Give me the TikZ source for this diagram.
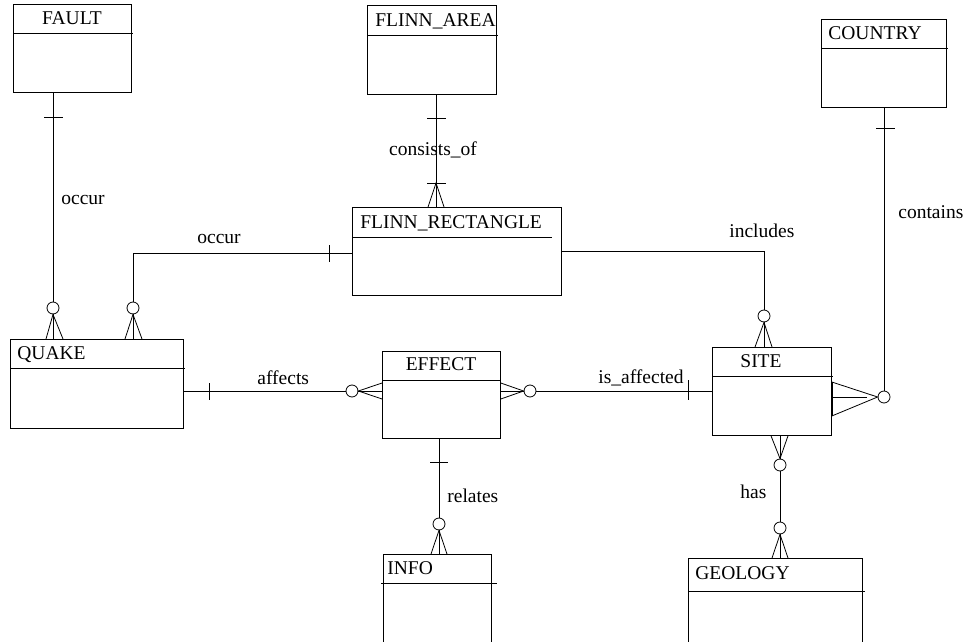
\documentclass[tikz,border=0pt]{standalone}
\usepackage{fontspec}
\setmainfont{Liberation Serif}
\begin{document}
\begin{tikzpicture}[x=1pt,y=-1pt,line width=0.8pt,
  ent/.style={draw, rectangle, inner sep=0pt, anchor=north west},
  ttl/.style={font=\fontsize{19.5}{21}\selectfont, inner sep=0pt, anchor=base west},
  lbl/.style={font=\fontsize{19.5}{21}\selectfont, inner sep=0pt, anchor=base west},
  circ/.style={draw, circle, fill=white, minimum size=12pt, inner sep=0pt}]
\clip (0,0) rectangle (966,642);
\fill[white] (0,0) rectangle (966,642);
% ---------------- entities ----------------
\node[ent, minimum width=118pt, minimum height=88pt] (fault) at (13,4) {};
\draw (fault.west |- 0,33) -- (133,33);
\node[ttl, anchor=base] (faultT) at (72,25) {FAULT};

\node[ent, minimum width=129pt, minimum height=89pt] (farea) at (367,5) {};
\draw (farea.west |- 0,35) -- (498,35);
\node[ttl] (fareaT) at (375,27) {FLINN\_AREA};

\node[ent, minimum width=125pt, minimum height=88pt] (country) at (821,19) {};
\draw (country.west |- 0,48) -- (948,48);
\node[ttl] (countryT) at (828,40) {COUNTRY};

\node[ent, minimum width=209pt, minimum height=88pt] (frect) at (352,207) {};
\draw (frect.west |- 0,237) -- (552,237);
\node[ttl] (frectT) at (360,228) {FLINN\_RECTANGLE};

\node[ent, minimum width=173pt, minimum height=89pt] (quake) at (10,339) {};
\draw (quake.west |- 0,368) -- (185,368);
\node[ttl] (quakeT) at (17,359) {QUAKE};

\node[ent, minimum width=118pt, minimum height=87pt] (effect) at (382,351) {};
\draw (effect.west |- 0,380) -- (effect.east |- 0,380);
\node[ttl, anchor=base] (effectT) at (441,370) {EFFECT};

\node[ent, minimum width=119pt, minimum height=88pt] (site) at (712,347) {};
\draw (site.west |- 0,376) -- (833,376);
\node[ttl] (siteT) at (740,367) {SITE};

\node[ent, minimum width=108pt, minimum height=110pt] (info) at (383,554) {};
\draw (381,583) -- (497,583);
\node[ttl] (infoT) at (387,574) {INFO};

\node[ent, minimum width=174pt, minimum height=110pt] (geology) at (688,558) {};
\draw (geology.west |- 0,591) -- (865,591);
\node[ttl] (geologyT) at (695,579) {GEOLOGY};

% ---------------- FAULT -- QUAKE (occur) ----------------
\node[circ] (c1) at (53,308) {};
\draw (53,0 |- fault.south) -- (c1.north);
\draw (44,117) -- (63,117);
\draw (46,0 |- quake.north) -- (c1.south) -- (63,0 |- quake.north);
\draw (c1.south) -- (53,0 |- quake.north);
\node[lbl] (l1) at (61,204) {occur};

% ---------------- FLINN_RECTANGLE -- QUAKE (occur) ----------------
\node[circ] (c2) at (133,308) {};
\draw (frect.west |- 0,253) -- (133,253) -- (c2.north);
\draw (329,245) -- (329,262);
\draw (125,0 |- quake.north) -- (c2.south) -- (142,0 |- quake.north);
\draw (c2.south) -- (133,0 |- quake.north);
\node[lbl] (l2) at (197,243) {occur};

% ---------------- FLINN_AREA -- FLINN_RECTANGLE (consists_of) ----------------
\coordinate (cf) at (436,183);
\draw (436,0 |- farea.south) -- (436,0 |- frect.north);
\draw (427,118) -- (446,118);
\draw (427,183) -- (446,183);
\draw (428,0 |- frect.north) -- (cf) -- (444,0 |- frect.north);
\node[lbl, anchor=base] (l3) at (433,155) {consists\_of};

% ---------------- FLINN_RECTANGLE -- SITE (includes) ----------------
\node[circ] (c3) at (764,316) {};
\draw (frect.east |- 0,251) -- (764,251) -- (c3.north);
\draw (755,0 |- site.north) -- (c3.south) -- (772,0 |- site.north);
\draw (c3.south) -- (764,0 |- site.north);
\node[lbl] (l4) at (729,237) {includes};

% ---------------- COUNTRY -- SITE (contains) ----------------
\node[circ] (c4) at (884,397) {};
\draw (884,0 |- country.south) -- (c4.north);
\draw (876,128) -- (895,128);
\draw (site.east |- 0,382) -- (c4.west) -- (site.east |- 0,416);
\draw (site.east |- 0,397) -- (867,397);
\draw[line width=1.6pt] (site.east |- 0,382) -- (site.east |- 0,416);
\node[lbl] (l5) at (898,218) {contains};

% ---------------- QUAKE -- EFFECT (affects) ----------------
\node[circ] (c5) at (352,391) {};
\draw (quake.east |- 0,391) -- (c5.west);
\draw (209,383) -- (209,400);
\draw (effect.west |- 0,383) -- (c5.east) -- (effect.west |- 0,399);
\draw (c5.east) -- (effect.west |- 0,391);
\node[lbl] (l6) at (257,384) {affects};

% ---------------- EFFECT -- SITE (is_affected) ----------------
\node[circ] (c6) at (530,391) {};
\draw (effect.east |- 0,383) -- (c6.west) -- (effect.east |- 0,399);
\draw (effect.east |- 0,391) -- (c6.west);
\draw (c6.east) -- (site.west |- 0,391);
\draw (688,380) -- (688,400);
\node[lbl] (l7) at (598,383) {is\_affected};

% ---------------- EFFECT -- INFO (relates) ----------------
\node[circ] (c7) at (439,524) {};
\draw (439,0 |- effect.south) -- (c7.north);
\draw (430,462) -- (448,462);
\draw (431,0 |- info.north) -- (c7.south) -- (447,0 |- info.north);
\draw (c7.south) -- (439,0 |- info.north);
\node[lbl] (l8) at (447,502) {relates};

% ---------------- SITE -- GEOLOGY (has) ----------------
\node[circ] (c8) at (780,465) {};
\node[circ] (c9) at (780,528) {};
\draw (771,0 |- site.south) -- (c8.north) -- (788,0 |- site.south);
\draw (780,0 |- site.south) -- (c8.north);
\draw (c8.south) -- (c9.north);
\draw (772,0 |- geology.north) -- (c9.south) -- (788,0 |- geology.north);
\draw (c9.south) -- (780,0 |- geology.north);
\node[lbl] (l9) at (740,498) {has};
\end{tikzpicture}
\end{document}
